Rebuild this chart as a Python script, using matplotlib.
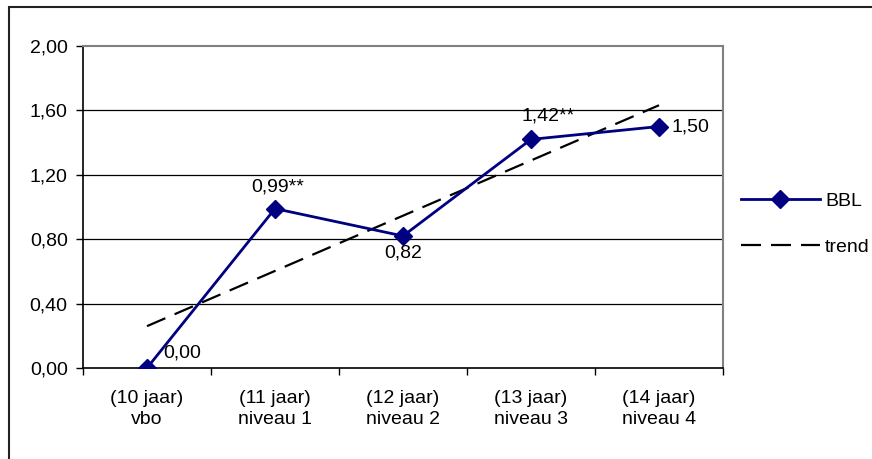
import matplotlib
matplotlib.use("Agg")
import matplotlib.pyplot as plt
from matplotlib.lines import Line2D
from matplotlib.patches import Rectangle
from matplotlib.ticker import FuncFormatter, FixedLocator
import numpy as np

plt.rcParams['font.family'] = ['Liberation Sans', 'DejaVu Sans']

categories = ["(10 jaar)\nvbo", "(11 jaar)\nniveau 1", "(12 jaar)\nniveau 2",
              "(13 jaar)\nniveau 3", "(14 jaar)\nniveau 4"]
bbl = [0.00, 0.99, 0.82, 1.42, 1.50]
point_labels = ["0,00", "0,99**", "0,82", "1,42**", "1,50"]
yticks = [0.0, 0.4, 0.8, 1.2, 1.6, 2.0]

W, H = 872, 459
fig = plt.figure(figsize=(W/100, H/100), dpi=100)
fs = 14

ax = fig.add_axes([83/W, (H-368)/H, 640/W, 322/H])
x = np.arange(1, len(bbl)+1)

# trend line (linear least squares fit of the series)
coef = np.polyfit(x, bbl, 1)
trend = np.polyval(coef, x)

for y in yticks[1:-1]:
    ax.axhline(y, color='black', lw=0.9, zorder=1)

dash = (0, (9, 4.5))
ax.plot(x, trend, color='black', lw=1.6, ls=dash, zorder=2)
ax.plot(x, bbl, color='#000080', lw=2, marker='D', markersize=9, zorder=3)

offsets = [(16, 6, 'left', 'bottom'), (3, 13, 'center', 'bottom'),
           (0, -9, 'center', 'top'), (17, 15, 'center', 'bottom'),
           (12, 0, 'left', 'center')]
for xi, yi, lab, (dx, dy, ha, va) in zip(x, bbl, point_labels, offsets):
    ax.annotate(lab, (xi, yi), xytext=(dx*0.72, dy*0.72), textcoords='offset points',
                ha=ha, va=va, fontsize=fs, zorder=4)

ax.set_xlim(0.5, len(bbl)+0.5)
ax.set_ylim(0, 2.0)
ax.set_yticks(yticks)
ax.yaxis.set_major_formatter(FuncFormatter(lambda v, p: f"{v:.2f}".replace('.', ',')))
ax.set_xticks(x)
ax.set_xticklabels(categories, fontsize=fs, linespacing=1.3)
ax.xaxis.set_minor_locator(FixedLocator(np.arange(0.5, len(bbl)+1, 1)))
ax.tick_params(axis='x', which='major', length=0, pad=16)
ax.tick_params(axis='x', which='minor', length=5, width=1, direction='out')
ax.tick_params(axis='y', length=5, width=1, direction='out', labelsize=fs, pad=6)

for s in ['left', 'bottom']:
    ax.spines[s].set_color('black')
    ax.spines[s].set_linewidth(1.2)
for s in ['top', 'right']:
    ax.spines[s].set_color('#808080')
    ax.spines[s].set_linewidth(1.5)

handles = [Line2D([], [], color='#000080', lw=2, marker='D', markersize=9),
           Line2D([], [], color='black', lw=1.6, ls=dash)]
fig.legend(handles, ['BBL', 'trend'], loc='upper left',
           bbox_to_anchor=(723/W, 1 - 175/H), frameon=False, fontsize=fs,
           handlelength=4.1, handletextpad=0.25, labelspacing=1.45)

# outer chart border (extends past right/bottom edge)
fig.patches.append(Rectangle((9/W, -0.1), 1.2, 1 - 7/H + 0.1, transform=fig.transFigure,
                             fill=False, edgecolor='#222222', lw=1.5))

fig.savefig("out.png", dpi=100)
